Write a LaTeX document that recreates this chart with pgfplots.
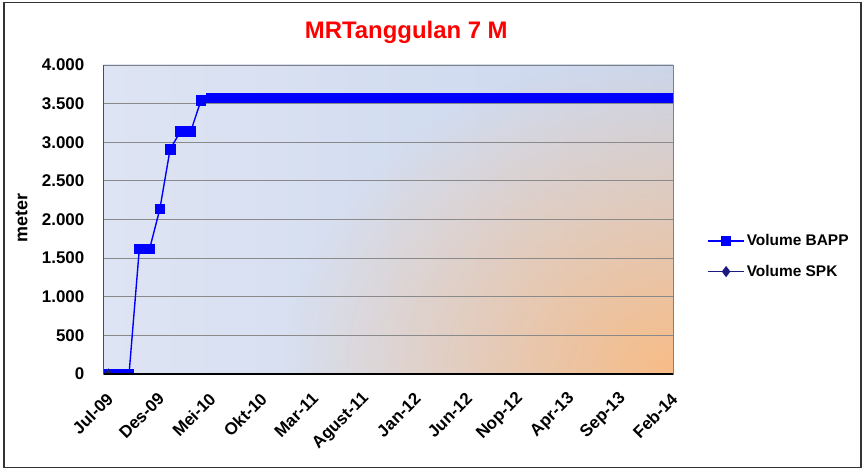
\documentclass[border=0pt]{standalone}
\usepackage{pgfplots}
\pgfplotsset{compat=1.18}
\usepackage{fontspec}
\setmainfont{Liberation Sans}
\usetikzlibrary{fadings}
\definecolor{bgL}{HTML}{DEE4F3}
\definecolor{bgM}{HTML}{C0CFEC}
\definecolor{bgR}{HTML}{CAD7EE}
\definecolor{bgO}{HTML}{F8BC86}
\definecolor{spk}{HTML}{1A1A80}
\definecolor{gridc}{HTML}{8A8A8A}
\tikzfading[name=radfade, inner color=transparent!0, outer color=transparent!100]
\begin{document}
\begin{tikzpicture}
\begin{axis}[
  set layers,
  scale only axis,
  width=569.5bp, height=309bp,
  xmin=-0.49, xmax=55, ymin=0, ymax=4000,
  clip marker paths=true,
  xtick={0,5,...,55},
  xticklabels={Jul-09,Des-09,Mei-10,Okt-10,Mar-11,Agust-11,Jan-12,Jun-12,Nop-12,Apr-13,Sep-13,Feb-14},
  ytick={0,500,...,4000},
  ymajorgrids, grid style={color=gridc, line width=0.9bp},
  major tick length=0pt,
  axis line style={draw=gray, line width=0.9bp},
  /pgf/number format/.cd, 1000 sep={.}, assume math mode=true,
  /pgfplots/.cd,
  ticklabel style={font=\bfseries\fontsize{17}{17}\selectfont},
  yticklabel style={anchor=east, inner sep=0pt, xshift=-19bp},
  xticklabel style={xshift=1.5bp, yshift=-22bp, rotate=45, anchor=east, inner sep=0pt},
  ylabel={meter},
  ylabel style={at={(axis description cs:-0.1439,0.505)}, anchor=center, font=\bfseries\fontsize{18}{18}\selectfont},
  title={MRTanggulan 7 M},
  title style={at={(axis description cs:0.5316,1.068)}, anchor=base, font=\bfseries\fontsize{24}{24}\selectfont, color=red},
  legend style={at={(axis description cs:1.06,0.381)}, anchor=west, draw=none, fill=none, inner sep=0pt,
    row sep=14bp, font=\bfseries\fontsize{15.5}{15.5}\selectfont},
  legend cell align=left,
  legend image code/.code={\draw[mark repeat=2,mark phase=2,#1] plot coordinates {(0bp,0bp) (18bp,0bp) (36bp,0bp)};},
  after end axis/.code={
    \draw[black, line width=1.4bp] (rel axis cs:0,0) -- (rel axis cs:1,0);
    \draw[black!70, line width=1.1bp] (rel axis cs:0,0) -- (rel axis cs:0,1);
    \path (rel axis cs:0,0) ++(-103.5bp,-96bp) rectangle ++(866bp,470bp);
    \draw[line width=1.5bp, color=black!80] (rel axis cs:0,0) ++(-99.5bp,-93.5bp) rectangle ++(857bp,465bp);
  },
]
\begin{pgfonlayer}{axis background}
\begin{scope}
\clip (rel axis cs:0,0) rectangle (rel axis cs:1,1);
\shade[left color=bgL, middle color=bgM, right color=bgR] (rel axis cs:0,0) rectangle (rel axis cs:1,1);
\fill[bgO, path fading=radfade] (rel axis cs:1,0) ellipse [x radius=390bp, y radius=320bp];
\end{scope}
\end{pgfonlayer}
\addplot[color=blue, line width=1.4bp, mark=square*, mark size=4.8bp, mark options={solid, fill=blue, line width=0.8bp}] coordinates {
(0,0) (1,0) (2,0) (3,1618) (4,1618) (5,2136) (6,2909) (7,3137) (8,3137) (9,3538)
(10,3575) (11,3575) (12,3575) (13,3575) (14,3575) (15,3575) (16,3575) (17,3575) (18,3575) (19,3575)
(20,3575) (21,3575) (22,3575) (23,3575) (24,3575) (25,3575) (26,3575) (27,3575) (28,3575) (29,3575)
(30,3575) (31,3575) (32,3575) (33,3575) (34,3575) (35,3575) (36,3575) (37,3575) (38,3575) (39,3575)
(40,3575) (41,3575) (42,3575) (43,3575) (44,3575) (45,3575) (46,3575) (47,3575) (48,3575) (49,3575)
(50,3575) (51,3575) (52,3575) (53,3575) (54,3575) (55,3575)
};
\addlegendentry{Volume BAPP}
\addplot[color=spk, line width=1.4bp, mark=diamond*, mark size=4.5bp, mark options={solid, fill=spk}] coordinates {(0,0)};
\addlegendentry{Volume SPK}
\end{axis}
\end{tikzpicture}
\end{document}
